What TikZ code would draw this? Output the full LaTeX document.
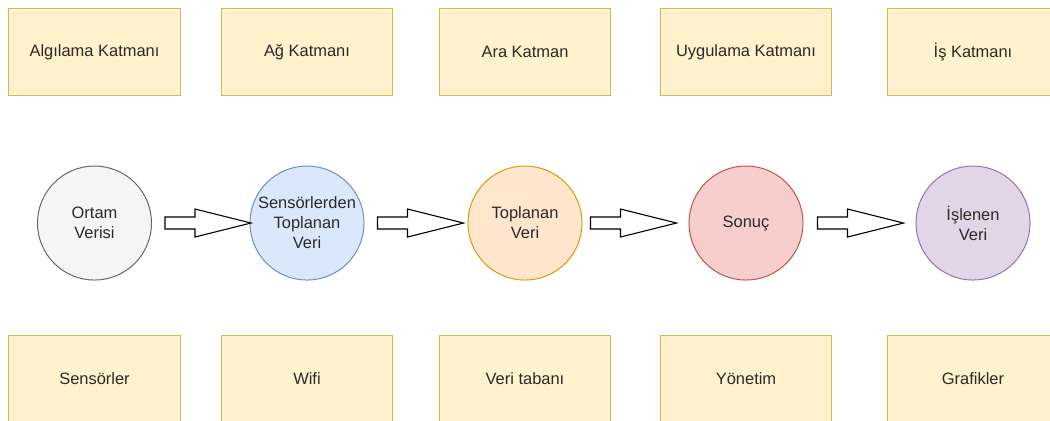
\documentclass[tikz,border=0pt]{standalone}
\usepackage{fontspec}
\setmainfont{Liberation Sans}
\usetikzlibrary{positioning,calc}

\definecolor{layerfill}{HTML}{FFF2CC}
\definecolor{layerline}{HTML}{D6B656}
\definecolor{txtgray}{HTML}{2A2A2A}
\definecolor{grayfill}{HTML}{F5F5F5}
\definecolor{grayline}{HTML}{666666}
\definecolor{bluefill}{HTML}{DAE8FC}
\definecolor{blueline}{HTML}{6C8EBF}
\definecolor{orangefill}{HTML}{FFE6CC}
\definecolor{orangeline}{HTML}{D79B00}
\definecolor{redfill}{HTML}{F8CECC}
\definecolor{redline}{HTML}{B85450}
\definecolor{purplefill}{HTML}{E1D5E7}
\definecolor{purpleline}{HTML}{9673A6}

\newcommand{\flowarrow}[2]{%
  \draw[blockarrow] ($(#1.east)+(#2,-6)$) -- ++(30,0) -- ++(0,-8)
    -- ++(56,14) -- ++(-56,14) -- ++(0,-8) -- ++(-30,0) -- cycle;}

\begin{document}
\begin{tikzpicture}[
  x=0.025cm, y=-0.025cm,
  font=\fontsize{11.7}{14.2}\selectfont,
  text=txtgray,
  line width=0.7pt,
  layer/.style={draw=layerline, fill=layerfill,
    minimum width=4.275cm, minimum height=2.15cm, inner sep=0pt},
  stage/.style={circle, minimum size=2.85cm, inner sep=0pt, align=center},
  blockarrow/.style={draw=black, fill=white, line width=0.8pt}
]
\useasboundingbox (0,0) rectangle (1050,420);
\clip (0,0) rectangle (1050,420);

% Top: layer names
\node[layer] (sensing) at (94.5,52) {Algılama Katmanı};
\node[layer] (network) at (307,52) {Ağ Katmanı};
\node[layer] (middle)  at (525,52) {Ara Katman};
\node[layer] (app)     at (746,52) {Uygulama Katmanı};
\node[layer] (business) at (973,52) {İş Katmanı};

% Middle: data flow
\node[stage, draw=grayline, fill=grayfill, below=1.75cm of sensing] (ortam)
  {Ortam\\Verisi};
\node[stage, draw=blueline, fill=bluefill, below=1.75cm of network] (collected)
  {Sensörlerden\\Toplanan\\Veri};
\node[stage, draw=orangeline, fill=orangefill, below=1.75cm of middle] (gathered)
  {Toplanan\\Veri};
\node[stage, draw=redline, fill=redfill, below=1.75cm of app] (result)
  {Sonuç};
\node[stage, draw=purpleline, fill=purplefill, below=1.75cm of business] (processed)
  {İşlenen\\Veri};

\flowarrow{ortam}{13}
\flowarrow{collected}{13}
\flowarrow{gathered}{8}
\flowarrow{result}{14}

% Bottom: layer contents
\node[layer, below=1.37cm of ortam]     (sensors)  {Sensörler};
\node[layer, below=1.37cm of collected] (wifi)     {Wifi};
\node[layer, below=1.37cm of gathered]  (database) {Veri tabanı};
\node[layer, below=1.37cm of result]    (manage)   {Yönetim};
\node[layer, below=1.37cm of processed] (charts)   {Grafikler};
\end{tikzpicture}
\end{document}
